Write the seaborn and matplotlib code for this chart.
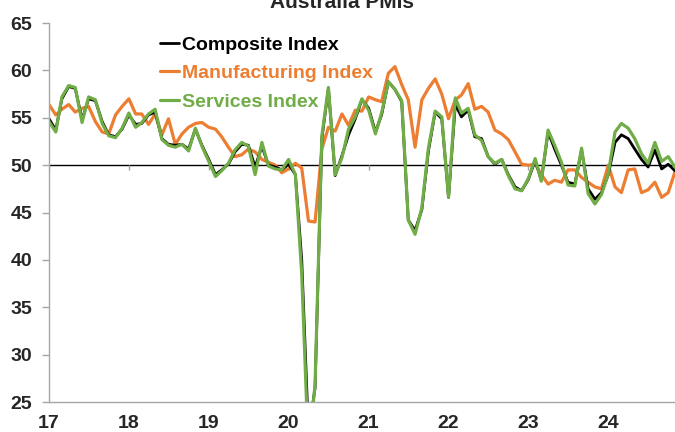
import numpy as np
import pandas as pd
import seaborn as sns
import matplotlib.pyplot as plt
from matplotlib import font_manager

# monthly PMI readings, Jan 2017 - Nov 2024
months = pd.date_range('2017-01-01', periods=95, freq='MS')

composite = [54.9, 53.7, 57.0, 58.3, 58.1, 54.8, 57.0, 56.8, 54.6, 53.2, 53.0, 53.8,
             55.3, 54.3, 54.4, 55.3, 55.6, 52.8, 52.2, 52.1, 52.2, 51.7, 53.8, 52.1,
             50.6, 49.0, 49.5, 50.1, 51.4, 52.2, 52.1, 49.8, 52.0, 50.0, 49.8, 49.5,
             50.1, 49.0, 40.0, 21.7, 26.5, 52.8, 58.1, 48.9, 51.0, 53.2, 54.9, 56.9,
             56.0, 53.5, 55.3, 58.8, 58.0, 56.7, 44.2, 43.1, 45.3, 51.5, 55.6, 54.9,
             46.6, 56.4, 55.1, 55.8, 53.0, 52.8, 50.9, 50.1, 50.6, 49.0, 47.7, 47.3,
             48.5, 50.5, 48.4, 53.5, 51.7, 50.0, 48.2, 48.0, 51.6, 47.5, 46.4, 47.1,
             49.0, 52.4, 53.2, 52.8, 51.7, 50.6, 49.8, 51.6, 49.6, 50.1, 49.4]

manufacturing = [56.4, 55.3, 55.9, 56.4, 55.6, 56.0, 56.2, 54.6, 53.5, 53.3, 55.3, 56.2,
                 57.0, 55.4, 55.4, 54.3, 55.4, 53.2, 54.9, 52.2, 53.3, 54.0, 54.4, 54.5,
                 54.0, 53.8, 53.0, 51.9, 50.9, 51.1, 51.7, 51.4, 50.6, 50.3, 50.0, 49.2,
                 49.6, 50.2, 49.7, 44.1, 44.0, 51.7, 54.0, 53.6, 55.4, 54.2, 55.8, 55.7,
                 57.2, 56.9, 56.7, 59.7, 60.4, 58.5, 56.9, 51.9, 56.9, 58.1, 59.1, 57.5,
                 54.9, 56.9, 57.4, 58.6, 55.9, 56.2, 55.6, 53.7, 53.3, 52.7, 51.4, 50.1,
                 50.0, 50.1, 49.0, 48.0, 48.4, 48.2, 49.5, 49.5, 48.7, 48.2, 47.7, 47.5,
                 50.0, 47.7, 47.1, 49.5, 49.6, 47.1, 47.4, 48.2, 46.6, 47.1, 49.3]

services = [54.6, 53.5, 57.2, 58.4, 58.2, 54.5, 57.2, 56.9, 54.4, 53.1, 52.9, 53.9,
            55.5, 54.0, 54.5, 55.4, 55.9, 52.7, 52.1, 51.9, 52.2, 51.5, 53.9, 52.0,
            50.4, 48.8, 49.4, 50.2, 51.6, 52.4, 52.0, 49.0, 52.4, 49.9, 49.6, 49.5,
            50.6, 49.0, 38.5, 19.5, 26.9, 53.1, 58.2, 49.0, 50.8, 53.8, 55.1, 57.0,
            55.8, 53.3, 55.5, 58.8, 58.0, 56.8, 44.2, 42.7, 45.5, 51.8, 55.7, 55.1,
            46.6, 57.1, 55.5, 56.0, 53.2, 52.6, 50.9, 50.2, 50.6, 48.9, 47.5, 47.3,
            48.6, 50.7, 48.3, 53.7, 52.1, 50.3, 47.9, 47.8, 51.8, 47.0, 45.9, 46.9,
            49.1, 53.5, 54.4, 53.9, 52.8, 51.2, 50.2, 52.4, 50.4, 50.9, 49.8]

series_names = ['Composite Index', 'Manufacturing Index', 'Services Index']
colors = {'Composite Index': 'black',
          'Manufacturing Index': '#ED7D31',
          'Services Index': '#70AD47'}
widths = {'Composite Index': 2.0, 'Manufacturing Index': 2.3, 'Services Index': 2.3}

sns.set_style('white')
try:
    font_manager.findfont('Liberation Sans Narrow', fallback_to_default=False)
    narrow = True
    plt.rcParams['font.family'] = ['Liberation Sans Narrow', 'DejaVu Sans']
except ValueError:
    narrow = False
    plt.rcParams['font.family'] = ['Liberation Sans', 'DejaVu Sans']
fs = 15 if narrow else 14

df = pd.DataFrame({'date': months,
                   'Composite Index': composite,
                   'Manufacturing Index': manufacturing,
                   'Services Index': services})

fig = plt.figure(figsize=(6.75, 4.32), dpi=100)
ax = fig.add_axes([0.0726, 0.0694, 0.9274, 0.8773])

# orange underneath, then black, green on top
for name in ['Manufacturing Index', 'Composite Index', 'Services Index']:
    sns.lineplot(x='date', y=name, data=df, ax=ax, color=colors[name],
                 linewidth=widths[name], label=name)

ax.axhline(50, color='black', linewidth=1.0, zorder=1)
year_starts = [d for d in months if d.month == 1]
ax.vlines(year_starts, 49.45, 50, color='#A0A0A0', linewidth=1.0, zorder=1)

ax.set_xlim(months[0], months[-1])
ax.set_ylim(25, 65)
ax.set_yticks(range(25, 70, 5))
ax.set_xticks(year_starts)
ax.set_xticklabels([d.strftime('%y') for d in year_starts])
ax.set_xlabel('')
ax.set_ylabel('')

for s in ['top', 'right']:
    ax.spines[s].set_visible(False)
for s in ['left', 'bottom']:
    ax.spines[s].set_color('#A6A6A6')
    ax.spines[s].set_linewidth(1.0)
ax.tick_params(axis='y', direction='out', length=5, width=1, color='#A6A6A6',
               pad=7, labelsize=fs, left=True)
ax.tick_params(axis='x', length=0, pad=9, labelsize=fs)
for lbl in ax.get_xticklabels() + ax.get_yticklabels():
    lbl.set_fontweight('bold')

h, l = ax.get_legend_handles_labels()
order = [l.index(n) for n in series_names]
ax.legend([h[i] for i in order], [l[i] for i in order],
          loc='upper left', bbox_to_anchor=(0.178, 0.965), frameon=False,
          handlelength=0.95, handletextpad=0.15, labelspacing=0.55,
          borderpad=0, borderaxespad=0, labelcolor='linecolor',
          prop={'size': fs, 'weight': 'bold'})

fig.text(0.507, 1 - 8 / 432, 'Australia PMIs', ha='center', va='baseline',
         fontsize=fs + 1, fontweight='bold')

fig.savefig('out.png', dpi=100)
